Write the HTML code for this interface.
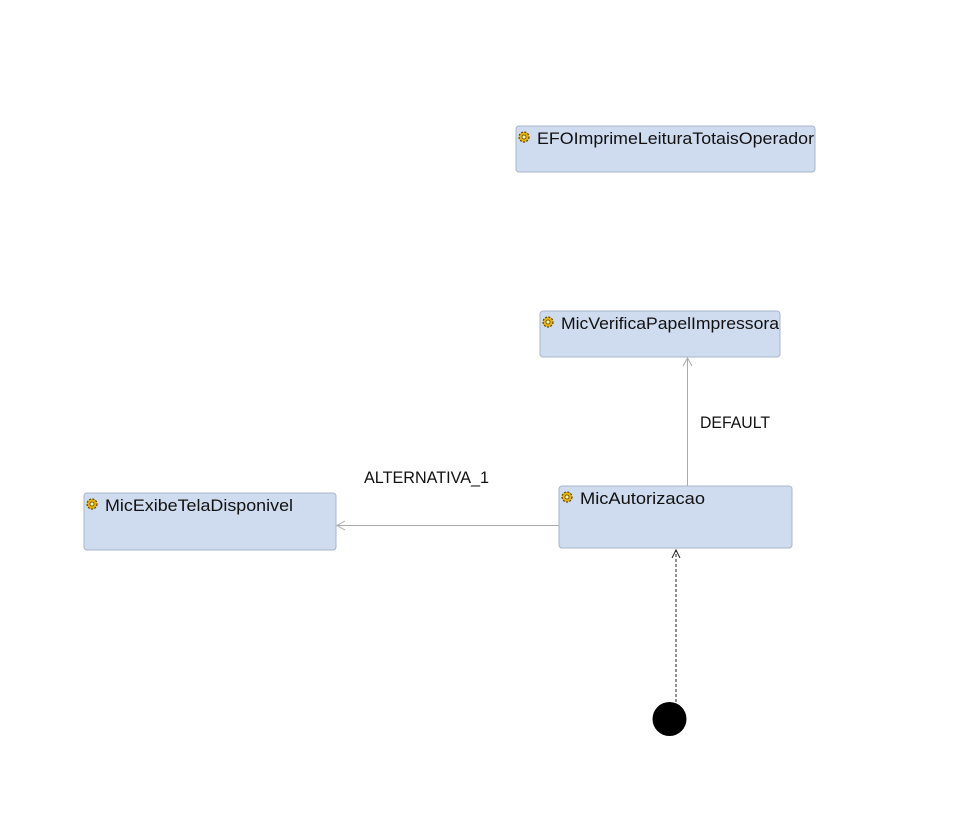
<!DOCTYPE html>
<html><head><style>body{margin:0;background:#fff}svg{display:block}text{font-family:"Liberation Sans",sans-serif;font-size:16.5px;fill:#111}</style></head><body>
<svg width="971" height="828" xmlns="http://www.w3.org/2000/svg">
<defs>
<g id="gear"><circle r="5" fill="#e8b400" stroke="#5a4300" stroke-width="1.2" stroke-dasharray="2 1.4"/><circle r="2" fill="#fff3b0" stroke="#5a4300" stroke-width="0.8"/></g>
</defs>
<g fill="#cfdcef" stroke="#a9b6c8" stroke-width="1">
<rect x="516" y="126" width="299" height="46" rx="3"/>
<rect x="540" y="311" width="240" height="46" rx="3"/>
<rect x="84" y="493" width="252" height="57" rx="3"/>
<rect x="559" y="486" width="233" height="62" rx="3"/>
</g>
<use href="#gear" x="524" y="137"/><text x="537" y="144" textLength="277" lengthAdjust="spacingAndGlyphs">EFOImprimeLeituraTotaisOperador</text>
<use href="#gear" x="548" y="322"/><text x="561" y="329" textLength="218" lengthAdjust="spacingAndGlyphs">MicVerificaPapelImpressora</text>
<use href="#gear" x="92" y="504"/><text x="105" y="511" textLength="188" lengthAdjust="spacingAndGlyphs">MicExibeTelaDisponivel</text>
<use href="#gear" x="567" y="497"/><text x="580" y="504" textLength="125" lengthAdjust="spacingAndGlyphs">MicAutorizacao</text>
<g stroke="#aaa" fill="none" stroke-width="1">
<line x1="687.5" y1="486" x2="687.5" y2="358"/><path d="M683 366 L687.5 358 L692 366"/>
<line x1="559" y1="525.5" x2="337" y2="525.5"/><path d="M345 521 L337 525.5 L345 530"/>
</g>
<line x1="676" y1="702" x2="676" y2="550" stroke="#222" stroke-dasharray="3 2"/>
<path d="M672 558 L676 550 L680 558" stroke="#222" fill="none"/>
<circle cx="669.5" cy="719" r="17" fill="#000"/>
<text x="700" y="428" textLength="70" lengthAdjust="spacingAndGlyphs">DEFAULT</text>
<text x="364" y="483" textLength="125" lengthAdjust="spacingAndGlyphs">ALTERNATIVA_1</text>
</svg>
</body></html>
